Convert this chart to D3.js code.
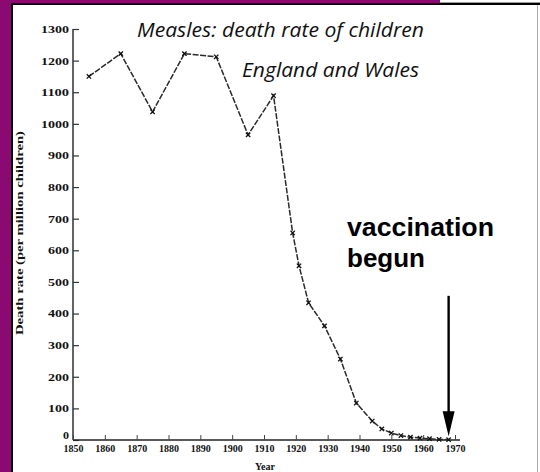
<!DOCTYPE html>
<html>
<head>
<meta charset="utf-8">
<script src="https://cdn.jsdelivr.net/npm/d3@7/dist/d3.min.js"></script>
<style>
  html, body { margin: 0; padding: 0; background: #fff; }
  svg { display: block; }
</style>
</head>
<body>
<svg id="chart" width="540" height="472"></svg>
<script>
// Measles death rate of children, England and Wales (per million children)
const years = [1855, 1865, 1875, 1885, 1895, 1905, 1913, 1919, 1921, 1924, 1929, 1934, 1939, 1944, 1947, 1950, 1953, 1956, 1959, 1962, 1965, 1968];
const rates = [1150, 1222, 1038, 1222, 1212, 965, 1089, 655, 551, 434, 361, 256, 117, 60, 35, 22, 14, 9, 6, 4, 2, 1];
const xTicks = [1850, 1860, 1870, 1880, 1890, 1900, 1910, 1920, 1930, 1940, 1950, 1960, 1970];
const yTicks = [0, 100, 200, 300, 400, 500, 600, 700, 800, 900, 1000, 1100, 1200, 1300];
const vaccinationYear = 1968;

const svg = d3.select("#chart");
const purple = "#8a0a72";

// Frame: purple surround, black inner edges, grey right-hand edge
svg.append("rect").attr("x", 0).attr("y", 0).attr("width", 540).attr("height", 472).attr("fill", "#fff");
svg.append("rect").attr("x", 0).attr("y", 0).attr("width", 11).attr("height", 472).attr("fill", purple);
svg.append("rect").attr("x", 0).attr("y", 0).attr("width", 440).attr("height", 3).attr("fill", purple);
svg.append("rect").attr("x", 440).attr("y", 2).attr("width", 100).attr("height", 1).attr("fill", "#999");
svg.append("rect").attr("x", 11).attr("y", 3).attr("width", 2).attr("height", 469).attr("fill", "#000");
svg.append("rect").attr("x", 11).attr("y", 3).attr("width", 529).attr("height", 2).attr("fill", "#000");
svg.append("rect").attr("x", 537).attr("y", 5).attr("width", 1).attr("height", 467).attr("fill", "#aaa");

const x = d3.scaleLinear().domain([1850, 1970]).range([73, 455]);
const y = d3.scaleLinear().domain([0, 1300]).range([440, 29]);

const tickFont = "'Liberation Serif', 'DejaVu Serif', serif";

// Y axis, ticks pointing into the plot
const yAxis = d3.axisRight(y).tickValues(yTicks).tickSize(6).tickFormat(d3.format("d"));
const gy = svg.append("g").attr("transform", `translate(${x(1850)},0)`).call(yAxis);
gy.select(".domain").attr("stroke", "#222").attr("stroke-width", 1.4).attr("d", `M0,${y(1300)}V${y(0)}`);
gy.selectAll(".tick line").attr("stroke", "#333").attr("stroke-width", 1.2);
gy.selectAll(".tick text")
  .attr("x", -4).attr("dy", d => d === 0 ? "-0.2em" : "0.34em")
  .attr("text-anchor", "end")
  .style("font-family", tickFont).style("font-weight", "bold").style("font-size", "10px")
  .attr("fill", "#111")
  .attr("textLength", d => d >= 1000 ? 28 : (d === 0 ? 6 : 21))
  .attr("lengthAdjust", "spacingAndGlyphs");

// X axis, ticks pointing up into the plot
const xAxis = d3.axisBottom(x).tickValues(xTicks).tickSize(-5).tickFormat(d3.format("d"));
const gx = svg.append("g").attr("transform", `translate(0,${y(0)})`).call(xAxis);
gx.select(".domain").attr("stroke", "#222").attr("stroke-width", 1.5).attr("d", `M${x(1850)},0H${x(1970) + 5}`);
gx.selectAll(".tick line").attr("stroke", "#444").attr("stroke-width", 1);
gx.selectAll(".tick text")
  .attr("y", 4).attr("dy", "0.71em")
  .style("font-family", tickFont).style("font-weight", "bold").style("font-size", "11px")
  .attr("fill", "#111")
  .attr("textLength", 20)
  .attr("lengthAdjust", "spacingAndGlyphs");

// Axis titles
svg.append("text")
  .attr("transform", `translate(23,233) rotate(-90)`)
  .attr("text-anchor", "middle")
  .style("font-family", tickFont).style("font-weight", "bold").style("font-size", "10px")
  .attr("fill", "#111")
  .attr("textLength", 204).attr("lengthAdjust", "spacingAndGlyphs")
  .text("Death rate (per million children)");

svg.append("text")
  .attr("x", 265).attr("y", 470)
  .attr("text-anchor", "middle")
  .style("font-family", tickFont).style("font-weight", "bold").style("font-size", "10px")
  .attr("fill", "#111")
  .text("Year");

// Death-rate curve
const pts = years.map((yr, i) => [yr, rates[i]]);
const line = d3.line().x(d => x(d[0])).y(d => y(d[1]));
svg.append("path")
  .datum(pts)
  .attr("d", line)
  .attr("fill", "none")
  .attr("stroke", "#2a2a2a")
  .attr("stroke-width", 1.5)
  .attr("stroke-dasharray", "6,1.5");

svg.append("g").selectAll("path")
  .data(pts)
  .join("path")
  .attr("transform", d => `translate(${x(d[0])},${y(d[1])})`)
  .attr("d", d3.symbol(d3.symbolTimes, 14))
  .attr("fill", "none")
  .attr("stroke", "#111")
  .attr("stroke-width", 1.3);

// Titles
const titleFont = "'Open Sans', 'Liberation Sans', sans-serif";
svg.append("text")
  .attr("x", 137).attr("y", 37)
  .style("font-family", titleFont).style("font-style", "italic").style("font-size", "20px")
  .attr("fill", "#111")
  .attr("textLength", 287).attr("lengthAdjust", "spacingAndGlyphs")
  .text("Measles: death rate of children");
svg.append("text")
  .attr("x", 242).attr("y", 77)
  .style("font-family", titleFont).style("font-style", "italic").style("font-size", "20px")
  .attr("fill", "#111")
  .attr("textLength", 177).attr("lengthAdjust", "spacingAndGlyphs")
  .text("England and Wales");

// Vaccination annotation
const noteFont = "'Liberation Sans', Arial, sans-serif";
svg.append("text")
  .attr("x", 347).attr("y", 236)
  .style("font-family", noteFont).style("font-weight", "bold").style("font-size", "26px")
  .attr("fill", "#000")
  .attr("textLength", 147).attr("lengthAdjust", "spacingAndGlyphs")
  .text("vaccination");
svg.append("text")
  .attr("x", 347).attr("y", 267)
  .style("font-family", noteFont).style("font-weight", "bold").style("font-size", "26px")
  .attr("fill", "#000")
  .text("begun");

const ax = x(vaccinationYear);
const arrowTop = y(456), arrowTip = y(12);
svg.append("line")
  .attr("x1", ax).attr("x2", ax)
  .attr("y1", arrowTop).attr("y2", arrowTip - 20)
  .attr("stroke", "#000").attr("stroke-width", 2.4);
svg.append("path")
  .attr("d", `M${ax - 6},${arrowTip - 25}L${ax + 6},${arrowTip - 25}L${ax},${arrowTip}Z`)
  .attr("fill", "#000");
</script>
</body>
</html>
